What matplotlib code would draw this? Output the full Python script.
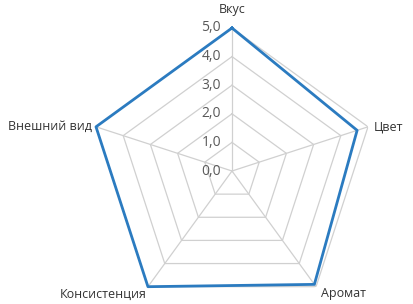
import numpy as np
import matplotlib.pyplot as plt

categories = ['Вкус', 'Цвет', 'Аромат', 'Консистенция', 'Внешний вид']
values = [5.0, 4.6, 4.9, 5.0, 5.0]
ticks = [0, 1, 2, 3, 4, 5]
tick_labels = ['0,0', '1,0', '2,0', '3,0', '4,0', '5,0']

plt.rcParams['font.family'] = ['Open Sans', 'DejaVu Sans']

fig = plt.figure(figsize=(4.13, 3.04), dpi=100)
ax = fig.add_axes([0.2155, -0.0329, 0.6925, 0.9408], projection='polar')
ax.set_theta_offset(np.pi / 2)
ax.set_theta_direction(-1)
ax.set_ylim(0, 5)
ax.axis('off')

n = len(categories)
angles = np.linspace(0, 2 * np.pi, n, endpoint=False)
closed = np.append(angles, angles[0])

# polygon grid
for t in ticks[1:]:
    ax.plot(closed, [t] * (n + 1), color='#d0d0d0', lw=0.9, zorder=1)
for a in angles:
    ax.plot([a, a], [0, 5], color='#d0d0d0', lw=0.9, zorder=1)

ax.plot(closed, values + values[:1], color='#2b7bc0', lw=2.0, zorder=3, clip_on=False)

# radial tick labels
for t, lab in zip(ticks, tick_labels):
    ax.annotate(lab, xy=(0, t), xytext=(-11, 0), textcoords='offset pixels',
                ha='right', va='center', fontsize=10, color='#595959')

# category labels
offsets = [(0, 12, 'center', 'bottom'), (6, 0, 'left', 'center'),
           (5, -7, 'left', 'center'), (-1, -8, 'right', 'center'),
           (-4, 0, 'right', 'center')]
for a, lab, (dx, dy, ha, va) in zip(angles, categories, offsets):
    ax.annotate(lab, xy=(a, 5), xytext=(dx, dy), textcoords='offset pixels',
                ha=ha, va=va, fontsize=9, color='#333333')

fig.savefig('out.png', dpi=100)
